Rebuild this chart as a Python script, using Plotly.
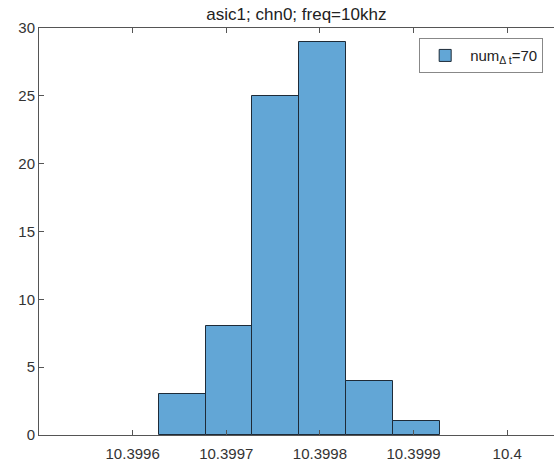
import plotly.graph_objects as go

# data
bin_start = 10.399628
bin_width = 0.00005
counts = [3, 8, 25, 29, 4, 1]
x_tickvals = [10.3996, 10.3997, 10.3998, 10.3999, 10.4]
x_ticktext = ["10.3996", "10.3997", "10.3998", "10.3999", "10.4"]
y_tickvals = [0, 5, 10, 15, 20, 25, 30]

centers = [bin_start + bin_width * (i + 0.5) for i in range(len(counts))]

fig = go.Figure()
fig.add_trace(go.Bar(
    x=centers, y=counts, width=[bin_width] * len(counts),
    marker=dict(color="#62a6d6", line=dict(color="#1e2b38", width=1)),
    name="num<sub>Δ t</sub>=70", showlegend=True,
))

axis_col = "#555555"
font_fam = "Liberation Sans, Arial, Helvetica, sans-serif"

fig.update_layout(
    width=554, height=463,
    margin=dict(l=39, r=0, t=28, b=28),
    paper_bgcolor="white", plot_bgcolor="white",
    font=dict(family=font_fam, size=15, color="#333333"),
    title=dict(text="asic1; chn0; freq=10khz", x=0.535, xanchor="center",
               y=1 - 14 / 463, yanchor="middle", yref="container",
               font=dict(size=17, color="#222222")),
    bargap=0,
    showlegend=True,
    legend=dict(x=0.979, xanchor="right", y=0.975, yanchor="top",
                bordercolor="#888888", borderwidth=1, bgcolor="white",
                itemwidth=40,
                font=dict(size=15, color="#222222")),
    xaxis=dict(range=[10.3995, 10.40005], tickvals=x_tickvals, ticktext=x_ticktext,
               showgrid=False, zeroline=False, showline=True, linecolor=axis_col,
               linewidth=1, mirror="ticks", ticks="inside", ticklen=5,
               ticklabelstandoff=5,
               tickcolor=axis_col, tickfont=dict(size=15, color="#333333")),
    yaxis=dict(range=[0, 30], tickvals=y_tickvals, showgrid=False, zeroline=False,
               showline=True, linecolor=axis_col, linewidth=1, ticks="inside",
               ticklen=5, tickcolor=axis_col, tickfont=dict(size=15, color="#333333")),
)

fig.write_html("out.html", config={"displayModeBar": False},
               post_script="document.body.style.margin='0';")
